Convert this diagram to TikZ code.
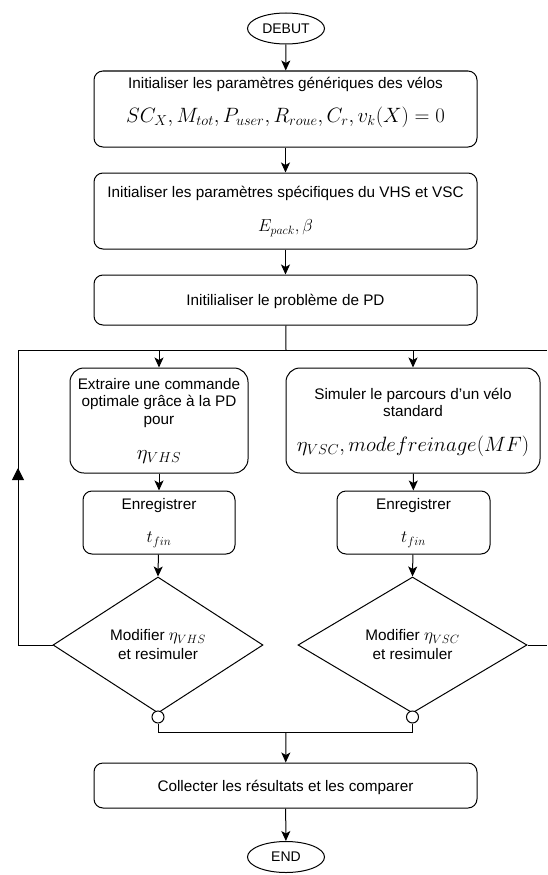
\documentclass[tikz,border=0pt]{standalone}
\usepackage{fontspec}
\setmainfont{Liberation Sans}
\usepackage{amsmath}
\usetikzlibrary{shapes.geometric,arrows.meta}
\tikzset{
  lw/.style={line width=1pt},
  rbox/.style={draw, lw, rounded corners=9pt, inner sep=0pt},
  bigr/.style={draw, lw, rounded corners=14pt, inner sep=0pt},
  term/.style={draw, lw, ellipse, inner sep=0pt, minimum width=77pt, minimum height=31pt, font=\fontsize{14}{16}\selectfont},
  dia/.style={draw, lw, diamond, inner sep=0pt},
  txt/.style={inner sep=0pt, font=\fontsize{15.3}{17.5}\selectfont, align=center},
  mth/.style={inner sep=0pt, font=\fontsize{20}{22}\selectfont},
  mbig/.style={inner sep=0pt, font=\fontsize{22.5}{24}\selectfont},
  msmall/.style={inner sep=0pt, font=\fontsize{18}{20}\selectfont},
  conn/.style={lw, -{Stealth[length=10pt,width=9pt,inset=2.5pt]}},
  plain/.style={lw},
  ring/.style={draw, lw, circle, fill=white, minimum size=12pt, inner sep=0pt}
}
\begin{document}
\begin{tikzpicture}[x=1pt,y=-1pt]
\useasboundingbox (0,0) rectangle (547,875);
% terminals
\node[term] (debut) at (286,28.5) {DEBUT};
\node[term] (fin) at (286,857) {END};
% box 1
\node[rbox, minimum width=383pt, minimum height=76pt] (b1) at (285.5,109) {};
\node[txt] (b1t) at (285.5,84) {Initialiser les paramètres génériques des vélos};
\node[mth] (b1m) at (285.5,117) {$SC_X, M_{tot}, P_{user}, R_{roue}, C_r, v_k(X) = 0$};
% box 2
\node[rbox, minimum width=383pt, minimum height=76pt] (b2) at (285.5,211) {};
\node[txt] (b2t) at (285.5,193) {Initialiser les paramètres spécifiques du VHS et VSC};
\node[msmall] (b2m) at (285.5,228) {$E_{pack}, \beta$};
% box 3
\node[rbox, minimum width=383pt, minimum height=50pt] (b3) at (285.5,300) {};
\node[txt] (b3t) at (285.5,301) {Initilialiser le problème de PD};
% left column
\node[bigr, minimum width=178pt, minimum height=105pt] (ba) at (159,420.5) {};
\node[txt] (bat) at (159,403) {Extraire une commande\\optimale grâce à la PD\\pour};
\node[mbig] (bam) at (159,457) {$\eta_{VHS}$};
% right column
\node[bigr, minimum width=254pt, minimum height=105pt] (bb) at (413,420.5) {};
\node[txt] (bbt) at (413,402.5) {Simuler le parcours d'un vélo\\standard};
\node[mbig] (bbm) at (413,446) {$\eta_{VSC}, mode freinage(MF)$};
% enregistrer
\node[rbox, minimum width=152pt, minimum height=63pt] (ea) at (159,522.5) {};
\node[txt] (eat) at (159,506) {Enregistrer};
\node[msmall] (eam) at (159,540) {$t_{fin}$};
\node[rbox, minimum width=153pt, minimum height=63pt] (eb) at (413.5,522.5) {};
\node[txt] (ebt) at (413.5,506) {Enregistrer};
\node[msmall] (ebm) at (413.5,540) {$t_{fin}$};
% diamonds
\node[dia, minimum width=210pt, minimum height=136pt] (da) at (158,645) {};
\node[txt, font=\fontsize{15.3}{19}\selectfont] (dat) at (158,645) {Modifier {\fontsize{17}{18}\selectfont$\eta_{VHS}$}\\et resimuler};
\node[dia, minimum width=229pt, minimum height=136pt] (db) at (412.5,645) {};
\node[txt, font=\fontsize{15.3}{19}\selectfont] (dbt) at (412.5,645) {Modifier {\fontsize{17}{18}\selectfont$\eta_{VSC}$}\\et resimuler};
\node[ring] (ra) at (158,717) {};
\node[ring] (rb) at (412.5,717) {};
% collecter
\node[rbox, minimum width=383pt, minimum height=45pt] (bc) at (285.5,785.5) {};
\node[txt] (bct) at (285.5,787) {Collecter les résultats et les comparer};
% coordinates
\coordinate (split) at (286,350);
\coordinate (hl) at (18,350);
\coordinate (hr) at (547,350);
\coordinate (ta) at (159,350);
\coordinate (tb) at (413,350);
\coordinate (lc) at (18,645);
\coordinate (la) at (18,468);
\coordinate (rc) at (547,645);
\coordinate (ja) at (158,732);
\coordinate (jb) at (412.5,732);
\coordinate (jm) at (286,732);
% connectors
\draw[conn] (debut) -- (b1);
\draw[conn] (b1) -- (b2);
\draw[conn] (b2) -- (b3);
\draw[plain] (b3) -- (split);
\draw[plain] (hl) -- (hr);
\draw[conn] (ta) -- (ba);
\draw[conn] (tb) -- (bb);
\draw[conn] (ba) -- (ea);
\draw[conn] (bb) -- (eb);
\draw[conn] (ea) -- (da.north);
\draw[conn] (eb) -- (db.north);
\draw[plain] (da.west) -- (lc) -- (hl);
\draw[lw, -{Triangle[length=12pt,width=12pt]}] (lc) -- (la);
\draw[plain] (db.east) -- (rc);
\draw[plain] (ra) -- (ja) -- (jb) -- (rb);
\draw[conn] (jm) -- (bc);
\draw[conn] (bc) -- (fin);
\end{tikzpicture}
\end{document}
